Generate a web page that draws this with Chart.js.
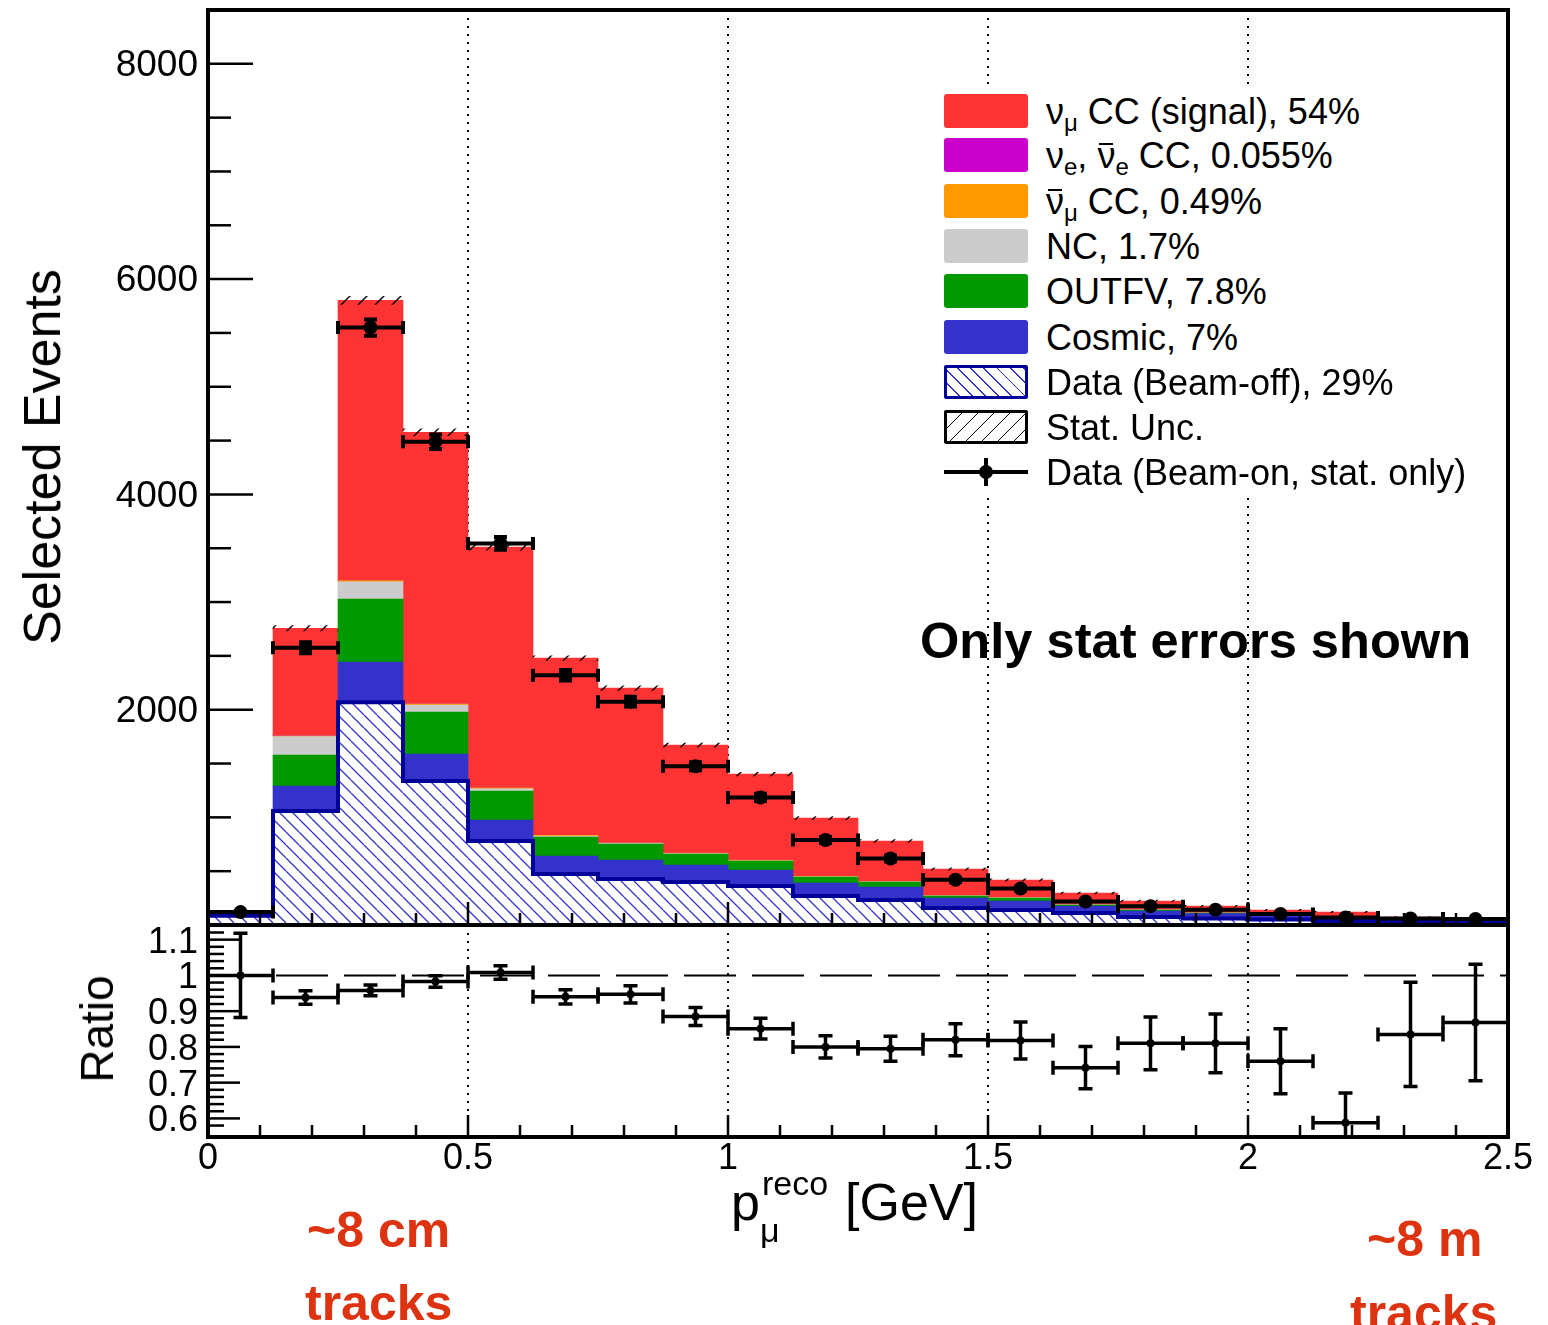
<!DOCTYPE html>
<html>
<head>
<meta charset="utf-8">
<script src="https://cdn.jsdelivr.net/npm/chart.js@4.4.1/dist/chart.umd.min.js"></script>
<style>
  html, body { margin:0; padding:0; background:#ffffff; }
  body { width:1548px; height:1325px; position:relative; overflow:hidden; font-family:"Liberation Sans", Arial, Helvetica, sans-serif; }
  canvas { position:absolute; left:0; }
  #topChart { top:0; }
  #ratioChart { top:900px; }
  .t { position:absolute; line-height:1; white-space:nowrap; color:#000; }
  .rot { transform: translate(-50%,-50%) rotate(-90deg); }
  .red { color:#dd3311; font-weight:bold; font-size:50px; }
  .legbox { position:absolute; left:928px; top:87px; width:465px; height:410px; background:#ffffff; }
  .sw { position:absolute; left:944px; width:84px; height:34px; border-radius:3px; box-sizing:border-box; }
  .lt { position:absolute; left:1046px; font-size:36px; line-height:1; white-space:nowrap; color:#000; }
  .lt sub { font-size:24px; vertical-align:-7px; line-height:0; }
  .ob { position:relative; display:inline-block; }
  .ob::before { content:''; position:absolute; left:2px; right:2px; top:5px; border-top:2.5px solid #000; }
</style>
</head>
<body>
<canvas id="topChart" width="1548" height="940"></canvas>
<canvas id="ratioChart" width="1548" height="300"></canvas>

<div class="legbox"></div>
<div class="sw" style="top:94px;background:#ff3333"></div>
<div class="lt" style="top:93.5px">ν<sub>μ</sub> CC (signal), 54%</div>
<div class="sw" style="top:138px;background:#cc00cc"></div>
<div class="lt" style="top:137.5px">ν<sub>e</sub>, <span class="ob">ν</span><sub>e</sub> CC, 0.055%</div>
<div class="sw" style="top:184px;background:#ff9900"></div>
<div class="lt" style="top:183.5px"><span class="ob">ν</span><sub>μ</sub> CC, 0.49%</div>
<div class="sw" style="top:229px;background:#cccccc"></div>
<div class="lt" style="top:228.5px">NC, 1.7%</div>
<div class="sw" style="top:274px;background:#009900"></div>
<div class="lt" style="top:273.5px">OUTFV, 7.8%</div>
<div class="sw" style="top:320px;background:#3333cc"></div>
<div class="lt" style="top:319.5px">Cosmic, 7%</div>
<div class="sw" style="top:365px;border:3px solid #000099;border-radius:2px;background:#fff repeating-linear-gradient(45deg, transparent 0 8px, #3333cc 8px 9.3px)"></div>
<div class="lt" style="top:364.5px">Data (Beam-off), 29%</div>
<div class="sw" style="top:410px;border:3px solid #000;border-radius:2px;background:#fff repeating-linear-gradient(135deg, transparent 0 10px, #000 10px 11.3px)"></div>
<div class="lt" style="top:409.5px">Stat. Unc.</div>
<div style="position:absolute;left:944px;top:470px;width:84px;height:4px;background:#000"></div>
<div style="position:absolute;left:984px;top:458px;width:4px;height:28px;background:#000"></div>
<div style="position:absolute;left:979px;top:465px;width:14px;height:14px;border-radius:50%;background:#000"></div>
<div class="lt" style="top:454.5px">Data (Beam-on, stat. only)</div>

<div class="t rot" style="left:42px;top:457px;font-size:52px;">Selected Events</div>
<div class="t rot" style="left:97px;top:1029px;font-size:46px;">Ratio</div>
<div class="t" style="left:731px;top:1176px;font-size:52px;">p</div>
<div class="t" style="left:762px;top:1166px;font-size:34px;">reco</div>
<div class="t" style="left:760px;top:1213px;font-size:34px;">μ</div>
<div class="t" style="left:845px;top:1176px;font-size:52px;">[GeV]</div>
<div class="t" style="left:920px;top:616px;font-size:50.6px;font-weight:bold;">Only stat errors shown</div>
<div class="t red" style="left:307px;top:1205px;">~8 cm</div>
<div class="t red" style="left:305px;top:1278px;">tracks</div>
<div class="t red" style="left:1367px;top:1214px;">~8 m</div>
<div class="t red" style="left:1350px;top:1288px;">tracks</div>

<script>
// ---------------- data ----------------
const binEdges = [0, 0.125, 0.25, 0.375, 0.5, 0.625, 0.75, 0.875, 1.0, 1.125, 1.25,
                  1.375, 1.5, 1.625, 1.75, 1.875, 2.0, 2.125, 2.25, 2.375, 2.5];
const beamOff     = [85, 1058, 2070, 1337, 780, 473, 427, 399, 362, 269, 232, 158, 139, 111, 74, 60, 50, 38, 30, 27];
const cosmic      = [12, 232, 372, 251, 195, 167, 176, 158, 149, 121, 121, 93, 84, 65, 55, 45, 33, 18, 14, 12];
const outFV       = [5, 288, 585, 390, 269, 177, 149, 102, 83, 56, 46, 18, 28, 10, 10, 6, 5, 4, 3, 3];
const ncEvents    = [2, 172, 160, 66, 22, 9, 6, 4, 3, 2, 2, 1, 1, 1, 1, 0, 0, 0, 0, 0];
const numubarCC   = [0, 8, 12, 10, 8, 7, 6, 5, 5, 4, 3, 3, 2, 2, 1, 1, 0, 0, 0, 0];
const nueCC       = [0, 4, 3, 2, 1, 1, 1, 1, 0, 0, 0, 0, 0, 0, 0, 0, 0, 0, 0, 0];
const numuCCSignal= [16, 995, 2601, 2521, 2235, 1645, 1435, 1002, 800, 541, 376, 247, 164, 108, 82, 64, 51, 60, 27, 22];
const mcStatUnc   = [10, 25, 38, 32, 28, 22, 21, 18, 17, 14, 13, 11, 10, 9, 8, 7, 6, 6, 5, 5];
const beamOnData  = [120, 2575, 5550, 4490, 3545, 2320, 2075, 1475, 1185, 790, 618, 420, 338, 218, 175, 142, 102, 70, 60, 56];
const beamOnErr   = [11, 51, 75, 67, 60, 48, 46, 38, 34, 28, 25, 20, 18, 15, 13, 12, 10, 8, 8, 7];
const ratioValues = [1.00, 0.938, 0.958, 0.983, 1.008, 0.94, 0.947, 0.885, 0.851, 0.80,
                     0.795, 0.82, 0.818, 0.742, 0.81, 0.81, 0.76, 0.588, 0.835, 0.868];
const ratioErr    = [0.118, 0.019, 0.015, 0.016, 0.019, 0.02, 0.024, 0.025, 0.029, 0.031,
                     0.035, 0.045, 0.052, 0.059, 0.074, 0.082, 0.091, 0.083, 0.146, 0.163];
const topYLabels   = [2000, 4000, 6000, 8000];
const ratioYLabels = [0.6, 0.7, 0.8, 0.9, 1, 1.1];
const xLabels      = [0, 0.5, 1, 1.5, 2, 2.5];
const gridLinesAt  = [0.5, 1, 1.5, 2];
const ratioReference = 1;

// ---------------- helpers ----------------
const binCenters = binEdges.slice(0, -1).map((e, i) => (e + binEdges[i + 1]) / 2);
const mcTotal = binCenters.map((_, i) => beamOff[i] + cosmic[i] + outFV[i] + ncEvents[i] + numubarCC[i] + nueCC[i] + numuCCSignal[i]);
const pts = arr => arr.map((v, i) => ({x: binCenters[i], y: v}));
const isMult = (v, step) => Math.abs(v / step - Math.round(v / step)) < 1e-6;
const labelFrom = list => v => { const m = list.find(l => Math.abs(l - v) < 1e-6); return m === undefined ? '' : String(m); };

function hatch(color, size, lw, dir, bg) {
  const c = document.createElement('canvas');
  c.width = c.height = size;
  const g = c.getContext('2d');
  if (bg) { g.fillStyle = bg; g.fillRect(0, 0, size, size); }
  g.strokeStyle = color; g.lineWidth = lw;
  g.beginPath();
  for (let k = -1; k <= 1; k++) {
    if (dir === '\\') { g.moveTo(k * size, 0); g.lineTo(k * size + size, size); }
    else { g.moveTo(k * size, size); g.lineTo(k * size + size, 0); }
  }
  g.stroke();
  return g.createPattern(c, 'repeat');
}
const beamOffPattern = hatch('#3333cc', 13, 1.3, '\\', '#ffffff');
const uncPattern = hatch('#000000', 17, 1.4, '/', null);

function framePlugin(o) {
  return {
    id: 'rootFrame' + o.name,
    beforeDatasetsDraw(chart) {
      const {ctx, chartArea: a} = chart;
      const xs = chart.scales.x;
      ctx.save();
      ctx.strokeStyle = '#000'; ctx.lineWidth = 2; ctx.setLineDash([2, 6]);
      gridLinesAt.forEach(v => {
        const px = Math.round(xs.getPixelForValue(v));
        ctx.beginPath(); ctx.moveTo(px, a.top); ctx.lineTo(px, a.bottom); ctx.stroke();
      });
      ctx.restore();
    },
    afterDraw(chart) {
      const {ctx, chartArea: a} = chart;
      ctx.save();
      ctx.strokeStyle = '#000'; ctx.lineWidth = 2.5; ctx.setLineDash([]);
      const xt = chart.scales[o.xTickScale];
      xt.ticks.forEach(t => {
        const px = xt.getPixelForValue(t.value);
        const len = isMult(t.value, 0.5) ? o.xMajorLen : o.xMinorLen;
        ctx.beginPath(); ctx.moveTo(px, a.bottom); ctx.lineTo(px, a.bottom - len); ctx.stroke();
      });
      const ys = chart.scales.y;
      ys.ticks.forEach(t => {
        if (!isMult(t.value, o.yMinor)) return;
        const py = ys.getPixelForValue(t.value);
        const len = isMult(t.value, o.yMajor) ? o.yMajorLen : o.yMinorLen;
        ctx.beginPath(); ctx.moveTo(a.left, py); ctx.lineTo(a.left + len, py); ctx.stroke();
      });
      ctx.lineWidth = 4;
      ctx.strokeRect(a.left, a.top, a.right - a.left, a.bottom - a.top);
      ctx.restore();
    }
  };
}

function errPlugin(o) {
  return {
    id: 'errBars' + o.name,
    afterDatasetsDraw(chart) {
      const {ctx, chartArea: a} = chart;
      const xs = chart.scales.x, ys = chart.scales.y;
      ctx.save();
      ctx.beginPath(); ctx.rect(a.left, a.top, a.right - a.left, a.bottom - a.top); ctx.clip();
      ctx.strokeStyle = '#000'; ctx.lineWidth = o.lineWidth; ctx.setLineDash([]);
      const c = o.cap / 2;
      o.values.forEach((v, i) => {
        const xl = xs.getPixelForValue(binEdges[i]);
        const xr = xs.getPixelForValue(binEdges[i + 1]);
        const xc = xs.getPixelForValue(binCenters[i]);
        const yc = ys.getPixelForValue(v);
        const yt = ys.getPixelForValue(v + o.errors[i]);
        const yb = ys.getPixelForValue(v - o.errors[i]);
        ctx.beginPath();
        ctx.moveTo(xl, yc); ctx.lineTo(xr, yc);
        ctx.moveTo(xl, yc - c); ctx.lineTo(xl, yc + c);
        ctx.moveTo(xr, yc - c); ctx.lineTo(xr, yc + c);
        ctx.moveTo(xc, yt); ctx.lineTo(xc, yb);
        ctx.moveTo(xc - c, yt); ctx.lineTo(xc + c, yt);
        ctx.moveTo(xc - c, yb); ctx.lineTo(xc + c, yb);
        ctx.stroke();
      });
      ctx.restore();
    }
  };
}

Chart.defaults.font.family = '"Liberation Sans", Arial, Helvetica, sans-serif';
Chart.defaults.color = '#000';

const barDs = (label, arr, color, order) => ({
  type: 'bar', label, data: pts(arr), backgroundColor: color, borderWidth: 0,
  stack: 'mc', grouped: false, barPercentage: 1, categoryPercentage: 1, order
});

// ---------------- top panel ----------------
new Chart(document.getElementById('topChart'), {
  type: 'bar',
  data: {
    datasets: [
      barDs('Data (Beam-off)', beamOff, beamOffPattern, 10),
      barDs('Cosmic', cosmic, '#3333cc', 11),
      barDs('OUTFV', outFV, '#009900', 12),
      barDs('NC', ncEvents, '#cccccc', 13),
      barDs('anti-numu CC', numubarCC, '#ff9900', 14),
      barDs('nue CC', nueCC, '#cc00cc', 15),
      barDs('numu CC (signal)', numuCCSignal, '#ff3333', 16),
      {
        type: 'bar', label: 'Stat. Unc.',
        data: mcTotal.map((t, i) => ({x: binCenters[i], y: [t - mcStatUnc[i], t + mcStatUnc[i]]})),
        backgroundColor: uncPattern, borderWidth: 0, stack: 'unc', grouped: false,
        barPercentage: 1, categoryPercentage: 1, order: 3
      },
      {
        type: 'line', label: 'beam-off outline',
        data: binEdges.map((e, i) => ({x: e, y: beamOff[Math.min(i, beamOff.length - 1)]})),
        stepped: 'before', borderColor: '#000099', borderWidth: 4, pointRadius: 0, fill: false,
        stack: 'outline', order: 2
      },
      {
        type: 'line', label: 'Data (Beam-on)', data: pts(beamOnData), showLine: false,
        pointRadius: 7, pointHoverRadius: 7, pointBackgroundColor: '#000', pointBorderWidth: 0,
        borderColor: '#000', stack: 'data', order: 1
      }
    ]
  },
  options: {
    responsive: false, animation: false, devicePixelRatio: 1, events: [],
    layout: {padding: {top: 10, bottom: 15, left: 0, right: 40}},
    plugins: {legend: {display: false}, tooltip: {enabled: false}},
    scales: {
      x: {
        type: 'linear', min: 0, max: 2.5, offset: false,
        ticks: {display: false, stepSize: 0.125}, grid: {display: false}, border: {display: false},
        afterFit: s => { s.height = 0; s.paddingLeft = 0; s.paddingRight = 0; }
      },
      xt: {
        type: 'linear', position: 'bottom', min: 0, max: 2.5, offset: false,
        ticks: {display: false, stepSize: 0.1}, grid: {display: false}, border: {display: false},
        afterFit: s => { s.height = 0; s.paddingLeft = 0; s.paddingRight = 0; }
      },
      y: {
        type: 'linear', min: 0, max: 8500, stacked: true,
        ticks: {stepSize: 500, autoSkip: false, padding: 10, labelOffset: 2, font: {size: 37}, color: '#000',
                callback: labelFrom(topYLabels)},
        grid: {display: false, drawTicks: false}, border: {display: false},
        afterFit: s => { s.width = 208; s.paddingTop = 0; s.paddingBottom = 0; }
      }
    }
  },
  plugins: [
    framePlugin({name: 'top', xTickScale: 'xt', xMajorLen: 23, xMinorLen: 12, yMinor: 500, yMajor: 2000, yMajorLen: 45, yMinorLen: 23}),
    errPlugin({name: 'top', values: beamOnData, errors: beamOnErr, lineWidth: 4, cap: 13})
  ]
});

// ---------------- ratio panel ----------------
new Chart(document.getElementById('ratioChart'), {
  type: 'line',
  data: {
    datasets: [
      {
        label: 'unity', data: [{x: binEdges[0], y: ratioReference}, {x: binEdges[binEdges.length - 1], y: ratioReference}],
        borderColor: '#000', borderWidth: 2, borderDash: [52, 16], pointRadius: 0, fill: false, order: 2
      },
      {
        label: 'Ratio', data: pts(ratioValues), showLine: false,
        pointRadius: 4, pointHoverRadius: 4, pointBackgroundColor: '#000', pointBorderWidth: 0,
        borderColor: '#000', order: 1
      }
    ]
  },
  options: {
    responsive: false, animation: false, devicePixelRatio: 1, events: [],
    layout: {padding: {top: 25, bottom: 0, left: 0, right: 40}},
    plugins: {legend: {display: false}, tooltip: {enabled: false}},
    scales: {
      x: {
        type: 'linear', min: 0, max: 2.5, offset: false,
        ticks: {stepSize: 0.1, autoSkip: false, maxRotation: 0, minRotation: 0, padding: 0,
                font: {size: 36}, color: '#000', callback: labelFrom(xLabels)},
        grid: {display: false, drawTicks: false}, border: {display: false},
        afterFit: s => { s.height = 63; s.paddingLeft = 0; s.paddingRight = 0; }
      },
      y: {
        type: 'linear', min: 0.548, max: 1.141,
        ticks: {stepSize: 0.02, autoSkip: false, padding: 10, labelOffset: 3, font: {size: 36}, color: '#000',
                callback: labelFrom(ratioYLabels)},
        grid: {display: false, drawTicks: false}, border: {display: false},
        afterFit: s => { s.width = 208; s.paddingTop = 0; s.paddingBottom = 0; }
      }
    }
  },
  plugins: [
    framePlugin({name: 'ratio', xTickScale: 'x', xMajorLen: 22, xMinorLen: 12, yMinor: 0.02, yMajor: 0.1, yMajorLen: 32, yMinorLen: 16}),
    errPlugin({name: 'ratio', values: ratioValues, errors: ratioErr, lineWidth: 3.5, cap: 14})
  ]
});
</script>
</body>
</html>
